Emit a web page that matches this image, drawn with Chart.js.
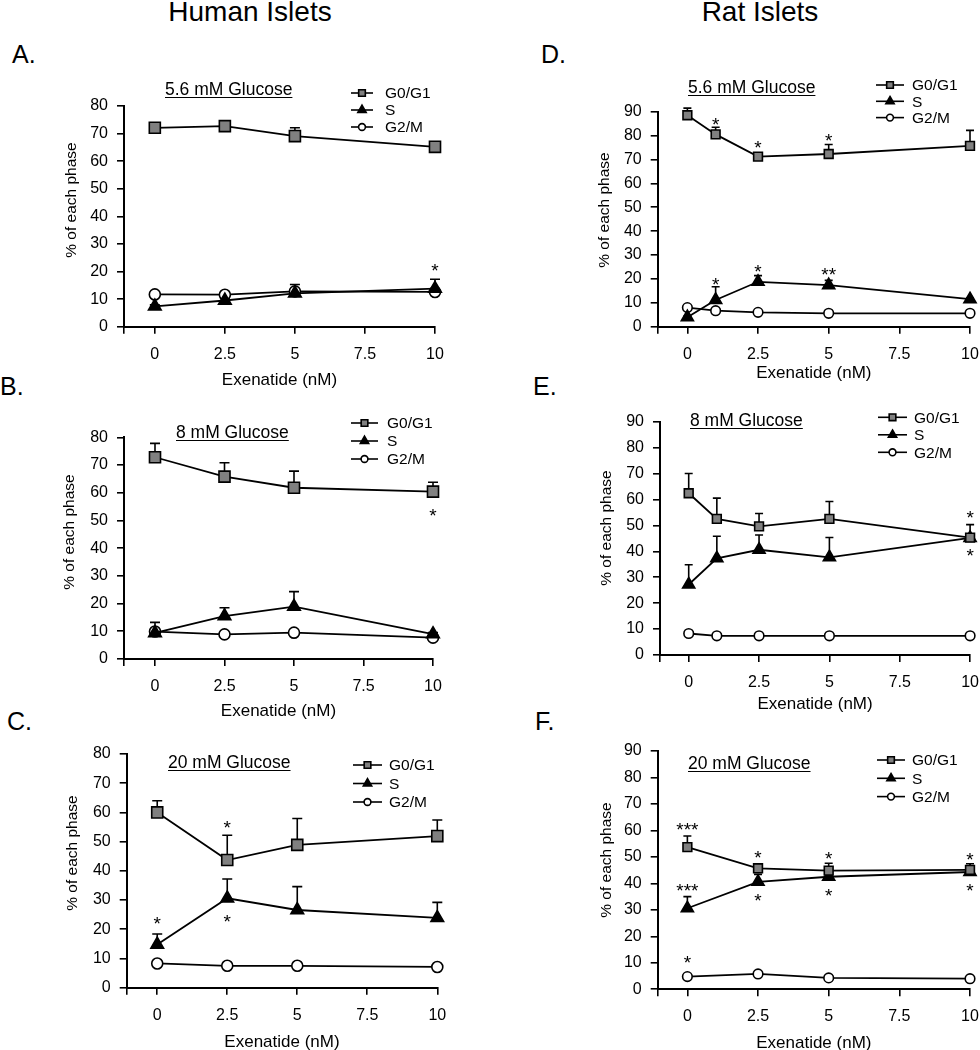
<!DOCTYPE html>
<html>
<head>
<meta charset="utf-8">
<title>Exenatide cell cycle</title>
<script src="https://cdn.jsdelivr.net/npm/chart.js@4"></script>
<style>
  body { margin: 0; background: #fff; overflow: hidden; }
  #page { position: relative; width: 980px; height: 1050px; overflow: hidden; }
  #page canvas { position: absolute; }
  .txt { position: absolute; font-family: "Liberation Sans", Arial, Helvetica, sans-serif; color: #000; line-height: 1; white-space: nowrap; }
  .hdr { font-size: 28px; width: 200px; text-align: center; }
  .lbl { font-size: 25px; }
</style>
</head>
<body>
<div id="page">
  <div class="txt hdr" style="left:150px; top:-2px;">Human Islets</div>
  <div class="txt hdr" style="left:660px; top:-2px;">Rat Islets</div>
  <div class="txt lbl" style="left:12px; top:42px;">A.</div>
  <div class="txt lbl" style="left:0px; top:374px;">B.</div>
  <div class="txt lbl" style="left:7px; top:709px;">C.</div>
  <div class="txt lbl" style="left:541px; top:42px;">D.</div>
  <div class="txt lbl" style="left:533px; top:374px;">E.</div>
  <div class="txt lbl" style="left:535px; top:709px;">F.</div>
  <canvas id="cA"></canvas>
  <canvas id="cB"></canvas>
  <canvas id="cC"></canvas>
  <canvas id="cD"></canvas>
  <canvas id="cE"></canvas>
  <canvas id="cF"></canvas>
</div>
<script>
const FONT = '"Liberation Sans", Arial, Helvetica, sans-serif';

// doses (nM)
const humanDose = [0, 2.5, 5, 10];
const ratDose = [0, 1, 2.5, 5, 10];
const ratDoseHigh = [0, 2.5, 5, 10];
const xTickValues = [0, 2.5, 5, 7.5, 10];
const xTickLabels = ['0', '2.5', '5', '7.5', '10'];
const seriesNames = ['G0/G1', 'S', 'G2/M'];

// A. human, 5.6 mM glucose
const aG0G1 = [72.1, 72.7, 69.1, 65.2];
const aG0G1Err = [1.5, 0.8, 3, 0.5];
const aS = [7.4, 9.5, 12.1, 13.8];
const aSErr = [0.5, 0.8, 3.2, 3.4];
const aG2M = [11.7, 11.6, 12.8, 12.6];
const aG2MErr = [0.5, 0.5, 0.8, 0.5];
const aStars = [[10, 21.8, '*']];

// B. human, 8 mM glucose
const bG0G1 = [72.8, 65.8, 61.8, 60.4];
const bG0G1Err = [5, 5, 6, 3.4];
const bS = [9.4, 15.5, 18.9, 9];
const bSErr = [3.8, 3, 5.4, 0.5];
const bG2M = [9.9, 8.9, 9.5, 7.7];
const bG2MErr = [0.5, 0.5, 0.5, 0.5];
const bStars = [[10, 53.4, '*']];

// C. human, 20 mM glucose
const cG0G1 = [60, 43.7, 48.9, 51.9];
const cG0G1Err = [4, 8.5, 9, 5.5];
const cS = [14.8, 30.6, 26.6, 23.9];
const cSErr = [3.6, 6.6, 8, 5.3];
const cG2M = [8.3, 7.5, 7.5, 7.1];
const cG2MErr = [0.5, 0.5, 0.5, 0.5];
const cStars = [[2.5, 56.3, '*'], [0, 23.5, '*'], [2.5, 24, '*']];

// D. rat, 5.6 mM glucose
const dG0G1 = [88.5, 80.5, 71.2, 72.3, 75.7];
const dG0G1Err = [3, 3, 0.8, 4, 6.5];
const dS = [4, 11.2, 18.8, 17.4, 11.5];
const dSErr = [0.5, 5.5, 2.6, 2, 0.5];
const dG2M = [8, 6.7, 6, 5.6, 5.6];
const dG2MErr = [0.5, 0.5, 0.5, 0.5, 0.5];
const dStars = [[1, 86.5, '*'], [2.5, 76.7, '*'], [5, 79.8, '*'], [1, 19.6, '*'], [2.5, 25, '*'], [5, 23.5, '**']];

// E. rat, 8 mM glucose
const eG0G1 = [62.4, 52.5, 49.6, 52.5, 45.3];
const eG0G1Err = [7.6, 8, 5, 6.7, 5];
const eS = [27.2, 37.3, 40.6, 37.7, 45.2];
const eSErr = [7.6, 8.5, 5.7, 7.6, 1.5];
const eG2M = [8.3, 7.4, 7.4, 7.4, 7.4];
const eG2MErr = [0.5, 0.5, 0.5, 0.5, 0.5];
const eStars = [[10, 54.7, '*'], [10, 39.9, '*']];

// F. rat, 20 mM glucose
const fG0G1 = [53.7, 45.7, 44.8, 45.1];
const fG0G1Err = [4.2, 1.6, 2.8, 2.3];
const fS = [30.6, 40.6, 42.5, 44.3];
const fSErr = [4.4, 2.8, 1, 0.5];
const fG2M = [4.8, 5.8, 4.3, 4];
const fG2MErr = [0.5, 0.5, 0.5, 0.5];
const fStars = [[0, 61.8, '***'], [2.5, 51.4, '*'], [5, 51, '*'], [10, 50.8, '*'],
                [0, 38.8, '***'], [2.5, 35, '*'], [5, 36.9, '*'], [10, 38.8, '*'], [0, 11.7, '*']];

const seriesStyle = [
  { pointStyle: 'rect', fill: '#808080' },
  { pointStyle: 'triangle', fill: '#000000' },
  { pointStyle: 'circle', fill: '#ffffff' }
];
const bigMarkers = { radii: [7.8, 7.3, 5.5], cap: 5 };
const smallMarkers = { radii: [6.2, 7, 4.8], cap: 4 };
const legendRadii = [4.7, 4.8, 3.4];

// page layout of each panel: canvas box, plot area (left, top, right, bottom), texts
const panels = [
  { id: 'cA', box: [0, 70, 490, 330], area: [124, 106, 435, 326.7], xGap: 54, xMin: -1.1, yMax: 80,
    doses: humanDose, values: [aG0G1, aS, aG2M], errors: [aG0G1Err, aSErr, aG2MErr], stars: aStars,
    title: ['5.6 mM Glucose', 165, 95], yTitle: [72, 200], legend: [351, 373, 385, 93, 17], markers: bigMarkers },
  { id: 'cB', box: [0, 400, 490, 330], area: [124, 437.3, 433, 659], xGap: 52, xMin: -1.115, yMax: 80,
    doses: humanDose, values: [bG0G1, bS, bG2M], errors: [bG0G1Err, bSErr, bG2MErr], stars: bStars,
    title: ['8 mM Glucose', 176, 438], yTitle: [70, 532], legend: [351, 378, 387, 423, 18], markers: bigMarkers },
  { id: 'cC', box: [0, 730, 490, 330], area: [126.7, 754, 437.3, 987.7], xGap: 55, xMin: -1.09, yMax: 80,
    doses: humanDose, values: [cG0G1, cS, cG2M], errors: [cG0G1Err, cSErr, cG2MErr], stars: cStars,
    title: ['20 mM Glucose', 168, 768], yTitle: [73, 853], legend: [353, 382, 389, 765, 18.5], markers: bigMarkers },
  { id: 'cD', box: [490, 70, 500, 330], area: [657.7, 111.7, 970, 326.7], xGap: 47, xMin: -1.05, yMax: 90,
    doses: ratDose, values: [dG0G1, dS, dG2M], errors: [dG0G1Err, dSErr, dG2MErr], stars: dStars,
    title: ['5.6 mM Glucose', 688, 93], yTitle: [605, 210], legend: [876, 904, 912, 85, 16.3], markers: smallMarkers },
  { id: 'cE', box: [490, 400, 500, 330], area: [660, 421.7, 972.7, 655], xGap: 49, xMin: -1.02, yMax: 90,
    doses: ratDose, values: [eG0G1, eS, eG2M], errors: [eG0G1Err, eSErr, eG2MErr], stars: eStars,
    title: ['8 mM Glucose', 690, 426], yTitle: [607, 528], legend: [878, 907, 914, 417.3, 17.5], markers: smallMarkers },
  { id: 'cF', box: [490, 730, 500, 330], area: [657.7, 751, 970, 989.3], xGap: 54, xMin: -1.05, yMax: 90,
    doses: ratDoseHigh, values: [fG0G1, fS, fG2M], errors: [fG0G1Err, fSErr, fG2MErr], stars: fStars,
    title: ['20 mM Glucose', 688, 769], yTitle: [607, 860], legend: [877, 905, 912, 760, 18.3], markers: smallMarkers }
];

function drawMarker(ctx, style, x, y, r) {
  ctx.beginPath();
  if (style === 'rect') {
    const s = r * Math.SQRT1_2;
    ctx.rect(x - s, y - s, 2 * s, 2 * s);
  } else if (style === 'triangle') {
    const a = 2 * Math.PI / 3;
    ctx.moveTo(x, y - r);
    ctx.lineTo(x + r * Math.sin(a), y - r * Math.cos(a));
    ctx.lineTo(x - r * Math.sin(a), y - r * Math.cos(a));
    ctx.closePath();
  } else {
    ctx.arc(x, y, r, 0, 2 * Math.PI);
  }
  ctx.fill();
  ctx.stroke();
}

function makeExtras(p) {
  const ox = p.box[0];
  const oy = p.box[1];
  return {
    id: 'extras',
    beforeDatasetsDraw(chart) {
      const { ctx, scales: { x, y } } = chart;
      ctx.save();
      ctx.strokeStyle = '#000';
      ctx.lineWidth = 1.6;
      chart.data.datasets.forEach(ds => {
        ds.data.forEach((pt, i) => {
          const px = x.getPixelForValue(pt.x);
          const top = y.getPixelForValue(pt.y + ds.errors[i]);
          ctx.beginPath();
          ctx.moveTo(px, y.getPixelForValue(pt.y));
          ctx.lineTo(px, top);
          ctx.moveTo(px - p.markers.cap, top);
          ctx.lineTo(px + p.markers.cap, top);
          ctx.stroke();
        });
      });
      ctx.restore();
    },
    afterDatasetsDraw(chart) {
      const { ctx, scales: { x, y } } = chart;
      ctx.save();
      ctx.fillStyle = '#000';
      ctx.strokeStyle = '#000';

      // significance stars
      ctx.font = `19px ${FONT}`;
      ctx.textAlign = 'center';
      ctx.textBaseline = 'alphabetic';
      p.stars.forEach(([dose, val, txt]) => {
        ctx.fillText(txt, x.getPixelForValue(dose), y.getPixelForValue(val) + 10.8);
      });

      // underlined panel title
      const [tText, tx, ty] = p.title;
      ctx.font = `17.5px ${FONT}`;
      ctx.textAlign = 'left';
      ctx.fillText(tText, tx - ox, ty - oy);
      const w = ctx.measureText(tText).width;
      ctx.lineWidth = 1;
      ctx.beginPath();
      ctx.moveTo(tx - ox, ty - oy + 2.5);
      ctx.lineTo(tx - ox + w, ty - oy + 2.5);
      ctx.stroke();

      // y axis title
      ctx.save();
      ctx.translate(p.yTitle[0] - ox, p.yTitle[1] - oy);
      ctx.rotate(-Math.PI / 2);
      ctx.font = `15.5px ${FONT}`;
      ctx.textAlign = 'center';
      ctx.textBaseline = 'middle';
      ctx.fillText('% of each phase', 0, 0);
      ctx.restore();

      // legend
      const [x1, x2, lx, ly0, dy] = p.legend;
      ctx.font = `15.5px ${FONT}`;
      ctx.textAlign = 'left';
      ctx.textBaseline = 'middle';
      seriesNames.forEach((name, k) => {
        const ly = ly0 + k * dy - oy;
        ctx.lineWidth = 1.6;
        ctx.beginPath();
        ctx.moveTo(x1 - ox, ly);
        ctx.lineTo(x2 - ox, ly);
        ctx.stroke();
        ctx.fillStyle = seriesStyle[k].fill;
        drawMarker(ctx, seriesStyle[k].pointStyle, (x1 + x2) / 2 - ox, ly, legendRadii[k]);
        ctx.fillStyle = '#000';
        ctx.fillText(name, lx - ox, ly + 1);
      });
      ctx.restore();
    }
  };
}

Chart.defaults.font.family = FONT;
Chart.defaults.color = '#000';

panels.forEach(p => {
  const canvas = document.getElementById(p.id);
  const [bl, bt, bw, bh] = p.box;
  const [al, at, ar, ab] = p.area;
  const xh = p.xGap + 8.5;
  canvas.width = bw;
  canvas.height = bh;
  canvas.style.left = bl + 'px';
  canvas.style.top = bt + 'px';

  const axisGrid = { drawOnChartArea: false, drawTicks: true, tickLength: 7, color: '#000', lineWidth: 1.6 };
  const axisBorder = { display: true, color: '#000', width: 2 };
  const tickFont = { family: FONT, size: 16 };

  new Chart(canvas, {
    type: 'line',
    data: {
      datasets: p.values.map((vals, k) => ({
        label: seriesNames[k],
        data: p.doses.map((d, i) => ({ x: d, y: vals[i] })),
        errors: p.errors[k],
        borderColor: '#000',
        borderWidth: 1.8,
        pointStyle: seriesStyle[k].pointStyle,
        pointRadius: p.markers.radii[k],
        pointHoverRadius: p.markers.radii[k],
        pointBackgroundColor: seriesStyle[k].fill,
        pointBorderColor: '#000',
        pointBorderWidth: 1.6,
        tension: 0,
        clip: false
      }))
    },
    options: {
      responsive: false,
      animation: false,
      devicePixelRatio: 1,
      events: [],
      layout: { padding: { left: 0, top: at - bt, right: bl + bw - ar, bottom: Math.max(bt + bh - ab - xh, 0) } },
      plugins: { legend: { display: false }, tooltip: { enabled: false } },
      scales: {
        x: {
          type: 'linear',
          min: p.xMin,
          max: 10,
          afterBuildTicks: s => { s.ticks = [p.xMin, ...xTickValues].map(v => ({ value: v })); },
          afterFit: s => { s.height = xh; },
          ticks: {
            autoSkip: false,
            maxRotation: 0,
            padding: 11,
            font: tickFont,
            color: '#000',
            callback: (v, i) => (i === 0 ? '' : xTickLabels[i - 1])
          },
          grid: axisGrid,
          border: axisBorder,
          title: { display: true, text: 'Exenatide (nM)', color: '#000', font: { family: FONT, size: 17, lineHeight: 1 }, padding: 0 }
        },
        y: {
          min: 0,
          max: p.yMax,
          afterFit: s => { s.width = al - bl; },
          ticks: { stepSize: 10, padding: 9, font: tickFont, color: '#000' },
          grid: axisGrid,
          border: axisBorder
        }
      }
    },
    plugins: [makeExtras(p)]
  });
});
</script>
</body>
</html>
